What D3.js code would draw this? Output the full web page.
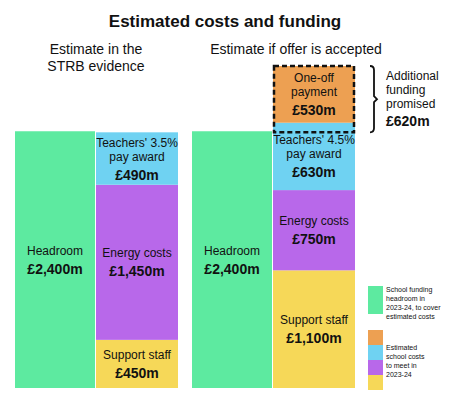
<!DOCTYPE html>
<html lang="en">
<head>
<meta charset="UTF-8">
<title>Estimated costs and funding</title>
<style>
  body { margin:0; background:#fff; }
  text { font-family: 'Liberation Sans', Arial, sans-serif; fill:#111; }
</style>
<script src="https://d3js.org/d3.v7.min.js"></script>
</head>
<body>
<script>
// data
var headroom = 2400;
var leftCosts = [
  {name:"Support staff", value:450, color:"#f6d858"},
  {name:"Energy costs", value:1450, color:"#b868ea"},
  {name:"Teachers' 3.5%|pay award", value:490, color:"#6fd2f2"}
];
var rightCosts = [
  {name:"Support staff", value:1100, color:"#f6d858"},
  {name:"Energy costs", value:750, color:"#b868ea"},
  {name:"Teachers' 4.5%|pay award", value:630, color:"#6fd2f2"},
  {name:"One-off|payment", value:530, color:"#eda052"}
];
var promised = 620;
var fmt = function(v){ return "£" + d3.format(",")(v) + "m"; };

var svg = d3.select("body").append("svg").attr("width",451).attr("height",404);
var y = d3.scaleLinear().domain([0, 3010]).range([388, 66]);

svg.append("text").attr("x",225).attr("y",27).attr("text-anchor","middle")
  .attr("font-size",17).attr("font-weight","bold").text("Estimated costs and funding");
svg.append("text").attr("x",96).attr("y",54).attr("text-anchor","middle").attr("font-size",14).text("Estimate in the");
svg.append("text").attr("x",96).attr("y",71).attr("text-anchor","middle").attr("font-size",14).text("STRB evidence");
svg.append("text").attr("x",296).attr("y",54).attr("text-anchor","middle").attr("font-size",14).text("Estimate if offer is accepted");

function label(x, yc, name, value, big) {
  var lines = name.split("|");
  var n = lines.length;
  var start = yc - (n*14 + 18)/2 + 11;
  lines.forEach(function(l,i){
    svg.append("text").attr("x",x).attr("y",start+i*14).attr("text-anchor","middle").attr("font-size",12).text(l);
  });
  svg.append("text").attr("x",x).attr("y",start+n*14+5).attr("text-anchor","middle")
    .attr("font-size",14).attr("font-weight","bold").text(fmt(value));
}

function group(x0, costs) {
  svg.append("rect").attr("x",x0).attr("width",80).attr("y",y(headroom))
    .attr("height",y(0)-y(headroom)).attr("fill","#5deaa0");
  label(x0+40, (y(0)+y(headroom))/2, "Headroom", headroom);
  var acc = 0;
  costs.forEach(function(c){
    var y1 = y(acc), y2 = y(acc + c.value);
    svg.append("rect").attr("x",x0+81).attr("width",82).attr("y",y2).attr("height",y1-y2).attr("fill",c.color);
    label(x0+122, (y1+y2)/2, c.name, c.value);
    acc += c.value;
  });
  return acc;
}
group(15, leftCosts);
var total = group(192, rightCosts);

// dashed promised box
svg.append("rect").attr("x",274).attr("width",80).attr("y",y(total))
  .attr("height",y(total-promised)-y(total)).attr("fill","none")
  .attr("stroke","#111").attr("stroke-width",2.5).attr("stroke-dasharray","5,3");
var bt = y(total), bb = y(total-promised), bm = (bt+bb)/2;
svg.append("path").attr("fill","none").attr("stroke","#111").attr("stroke-width",1.8)
  .attr("d","M370,"+bt+" q4,0 4,4 V"+(bm-3)+" l3,3 l-3,3 V"+(bb-4)+" q0,4 -4,4");
["Additional","funding","promised"].forEach(function(t,i){
  svg.append("text").attr("x",386).attr("y",bt+14+i*14).attr("font-size",12).text(t);
});
svg.append("text").attr("x",386).attr("y",bt+60).attr("font-size",14).attr("font-weight","bold").text(fmt(promised));

// legend
svg.append("rect").attr("x",368).attr("y",286).attr("width",15).attr("height",28).attr("fill","#5deaa0");
["School funding","headroom in","2023-24, to cover","estimated costs"].forEach(function(t,i){
  svg.append("text").attr("x",386).attr("y",292+i*9).attr("font-size",7).text(t);
});
["#eda052","#6fd2f2","#b868ea","#f6d858"].forEach(function(c,i){
  svg.append("rect").attr("x",368).attr("y",330+i*15).attr("width",15).attr("height",15).attr("fill",c);
});
["Estimated","school costs","to meet in","2023-24"].forEach(function(t,i){
  svg.append("text").attr("x",386).attr("y",350+i*9).attr("font-size",7).text(t);
});
</script>
</body>
</html>
